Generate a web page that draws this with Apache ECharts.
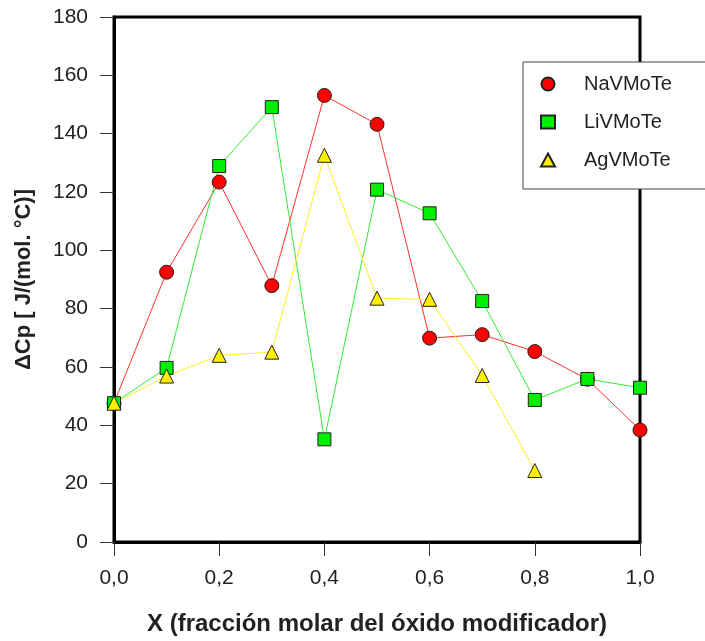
<!DOCTYPE html>
<html>
<head>
<meta charset="utf-8">
<script src="https://cdn.jsdelivr.net/npm/echarts@6/dist/echarts.min.js"></script>
<style>
  html, body { margin: 0; padding: 0; background: #fff; }
  #chart { width: 705px; height: 641px; }
</style>
</head>
<body>
<div id="chart"></div>
<script>
// Molar fraction of the modifier oxide
const xValues = [0.0, 0.1, 0.2, 0.3, 0.4, 0.5, 0.6, 0.7, 0.8, 0.9, 1.0];

// ΔCp [J/(mol·°C)] for each glass system
const naVMoTe = [47.6, 92.5, 123.4, 87.9, 153.1, 143.2, 69.9, 71.1, 65.3, 55.8, 38.4];
const liVMoTe = [47.6, 59.7, 128.9, 149.1, 35.2, 120.8, 112.7, 82.6, 48.7, 55.9, 52.9];
const agVMoTe = [47.6, 56.9, 64.0, 65.1, 132.6, 83.6, 83.2, 57.1, 24.5];

const seriesNames = ['NaVMoTe', 'LiVMoTe', 'AgVMoTe'];

const xTicks = { min: 0, max: 1, interval: 0.2 };
const yTicks = { min: 0, max: 180, interval: 20 };

function pairs(values) {
  return values.map((v, i) => [xValues[i], v]);
}

const font = '"Liberation Sans", Arial, sans-serif';
const textColor = '#222';

const chart = echarts.init(document.getElementById('chart'), null, { renderer: 'canvas' });

function lineSeries(name, values, symbol, size, lineColor, fillColor) {
  return {
    name: name,
    type: 'line',
    data: pairs(values),
    symbol: symbol,
    symbolSize: size,
    showAllSymbol: true,
    animation: false,
    lineStyle: { color: lineColor, width: 1 },
    itemStyle: { color: fillColor, borderColor: '#222', borderWidth: 1 },
    emphasis: { disabled: true }
  };
}

chart.setOption({
  backgroundColor: '#fff',
  animation: false,
  grid: {
    left: 114, right: 65, top: 17, bottom: 97,
    show: true, borderColor: '#000', borderWidth: 3, backgroundColor: 'transparent'
  },
  legend: {
    orient: 'vertical',
    left: 523, top: 62,
    padding: [11, 120, 18, 17],
    itemWidth: 14, itemHeight: 13, itemGap: 16,
    backgroundColor: '#fff',
    borderColor: '#444', borderWidth: 1, borderRadius: 0,
    selectedMode: false,
    textStyle: {
      fontFamily: font, fontSize: 20, lineHeight: 22, color: textColor,
      padding: [0, 0, 0, 24]
    },
    data: [
      { name: seriesNames[0], icon: 'circle' },
      { name: seriesNames[1], icon: 'rect' },
      { name: seriesNames[2], icon: 'triangle' }
    ]
  },
  xAxis: {
    type: 'value',
    min: xTicks.min, max: xTicks.max, interval: xTicks.interval,
    name: 'X (fracción molar del óxido modificador)',
    nameLocation: 'middle', nameGap: 70,
    nameTextStyle: { fontFamily: font, fontSize: 24, fontWeight: 'bold', color: textColor },
    axisLine: { show: true, onZero: false, lineStyle: { color: '#000', width: 3 } },
    axisTick: { show: true, inside: false, length: 14, lineStyle: { color: '#333', width: 1 } },
    axisLabel: {
      fontFamily: font, fontSize: 21, color: textColor, margin: 26,
      formatter: v => v.toFixed(1).replace('.', ',')
    },
    splitLine: { show: false }
  },
  yAxis: {
    type: 'value',
    min: yTicks.min, max: yTicks.max, interval: yTicks.interval,
    name: 'ΔCp [ J/(mol. °C)]',
    nameLocation: 'middle', nameGap: 79,
    nameTextStyle: { fontFamily: font, fontSize: 22, fontWeight: 'bold', color: textColor },
    axisLine: { show: true, onZero: false, lineStyle: { color: '#000', width: 3 } },
    axisTick: { show: true, inside: false, length: 14, lineStyle: { color: '#333', width: 1 } },
    axisLabel: { fontFamily: font, fontSize: 21, color: textColor, margin: 26 },
    splitLine: { show: false }
  },
  series: [
    lineSeries(seriesNames[0], naVMoTe, 'circle', 14, '#ff3030', '#ff0000'),
    lineSeries(seriesNames[1], liVMoTe, 'rect', 13, '#33ee33', '#00ee00'),
    lineSeries(seriesNames[2], agVMoTe, 'triangle', 14, '#ffee22', '#ffee00')
  ]
});
</script>
</body>
</html>
